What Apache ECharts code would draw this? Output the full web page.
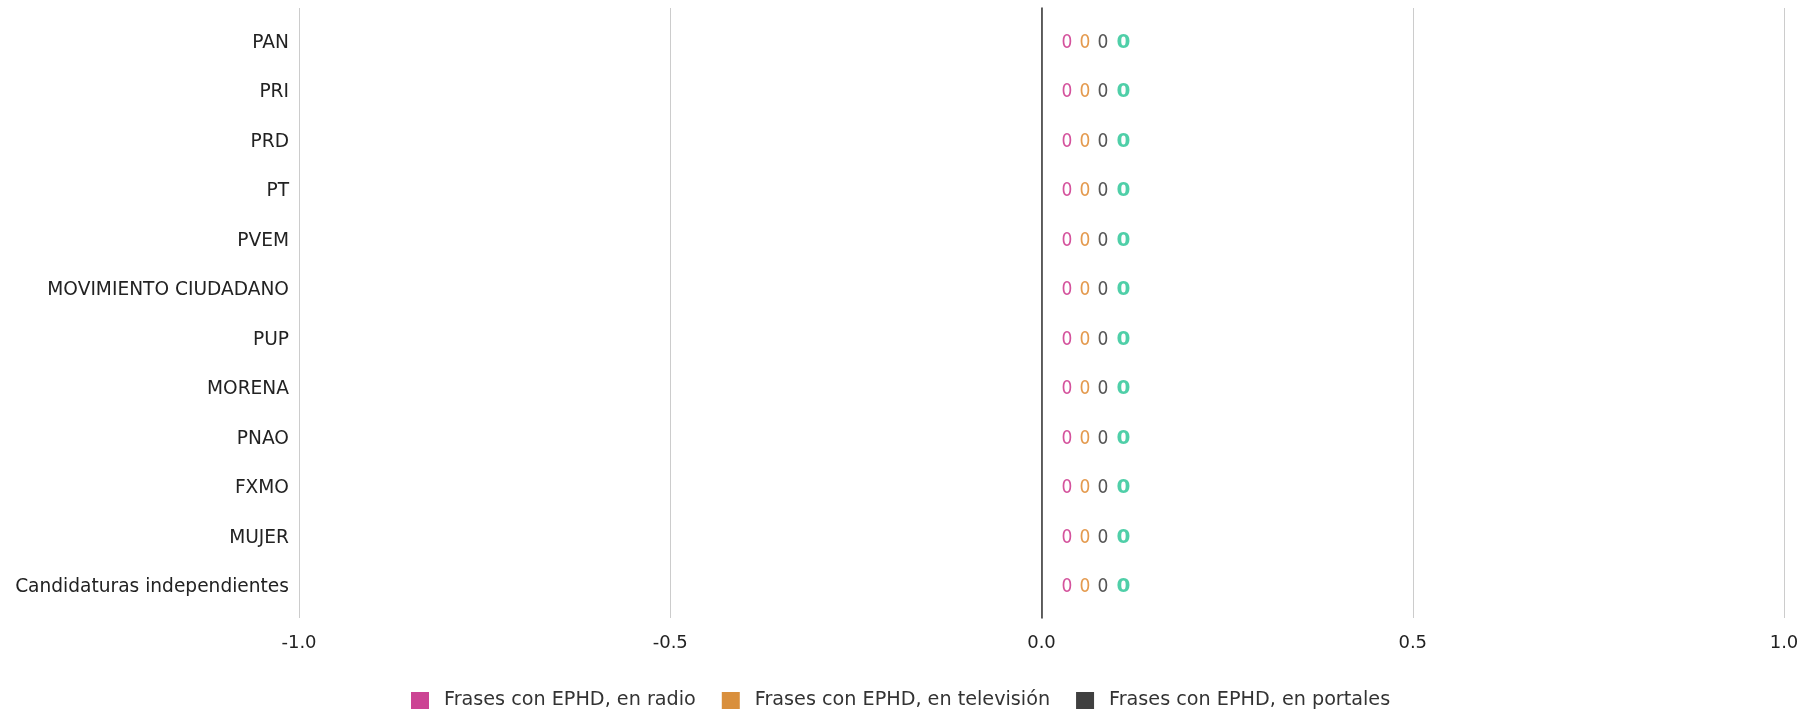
<!DOCTYPE html>
<html>
<head>
<meta charset="utf-8">
<script src="https://cdn.jsdelivr.net/npm/echarts@6/dist/echarts.min.js"></script>
<style>
html,body{margin:0;padding:0;background:#fff;}
#chart{width:1818px;height:713px;}
</style>
</head>
<body>
<div id="chart"></div>
<script>
const categories = ["PAN","PRI","PRD","PT","PVEM","MOVIMIENTO CIUDADANO","PUP","MORENA","PNAO","FXMO","MUJER","Candidaturas independientes"];
const radio = [0,0,0,0,0,0,0,0,0,0,0,0];
const television = [0,0,0,0,0,0,0,0,0,0,0,0];
const portales = [0,0,0,0,0,0,0,0,0,0,0,0];
const total = [0,0,0,0,0,0,0,0,0,0,0,0];
const seriesNames = ["Frases con EPHD, en radio","Frases con EPHD, en televisión","Frases con EPHD, en portales"];
const xTicks = {min:-1, max:1, interval:0.5};

const chart = echarts.init(document.getElementById('chart'), null, {renderer:'canvas'});
const lblFont = 'DejaVu Sans Condensed';
const catFont = 'DejaVu Sans';
function mkSeries(name, data, color, lblColor, dx, bold, size, font){
  return {
    name: name, type:'bar', stack:'s', data:data, barWidth:20,
    xAxisIndex:0, yAxisIndex:0,
    itemStyle:{color:color},
    label:{show:true, position:'right', distance:0, offset:[dx,0],
      color:lblColor, fontFamily:font || lblFont, fontSize:size, fontWeight:bold?'bold':'normal'}
  };
}
chart.setOption({
  animation:false,
  color:['#cc4494','#d98f3c','#404040'],
  grid:[
    {left:299, right:34, top:18, height:594},
    {left:299, right:34, top:8, height:610}
  ],
  legend:{
    data:seriesNames, left:406, top:686, itemWidth:18, itemHeight:17, itemGap:26,
    icon:'rect',
    textStyle:{fontFamily:catFont, fontSize:19.2, color:'#333', padding:[0,0,0,10]}
  },
  xAxis:[
    {gridIndex:0, type:'value', min:xTicks.min, max:xTicks.max, interval:xTicks.interval, show:false},
    {gridIndex:1, type:'value', min:xTicks.min, max:xTicks.max, interval:xTicks.interval,
      axisLine:{show:false}, axisTick:{show:false},
      splitLine:{show:true, lineStyle:{color:'#cccccc', width:1}},
      axisLabel:{margin:16, color:'#222', fontFamily:catFont, fontSize:18,
        formatter:v=>v.toFixed(1)}}
  ],
  yAxis:[
    {gridIndex:0, type:'category', data:categories, inverse:true,
      axisLine:{show:false}, axisTick:{show:false}, splitLine:{show:false},
      axisLabel:{margin:10, color:'#222', fontFamily:catFont, fontSize:18.6}},
    {gridIndex:1, type:'value', min:0, max:1, 
      axisLine:{show:true, onZero:true, lineStyle:{color:'#333', width:1.5}},
      axisTick:{show:false}, axisLabel:{show:false}, splitLine:{show:false}}
  ],
  series:[
    mkSeries(seriesNames[0], radio, '#cc4494', '#d4529c', 20, false, 19),
    mkSeries(seriesNames[1], television, '#d98f3c', '#e49a4e', 38, false, 19),
    mkSeries(seriesNames[2], portales, '#404040', '#555555', 56, false, 19),
    mkSeries('total', total, '#4fcfa8', '#4fcfa8', 75, true, 20, catFont),
    {type:'scatter', xAxisIndex:1, yAxisIndex:1, data:[], silent:true}
  ]
});
</script>
</body>
</html>
